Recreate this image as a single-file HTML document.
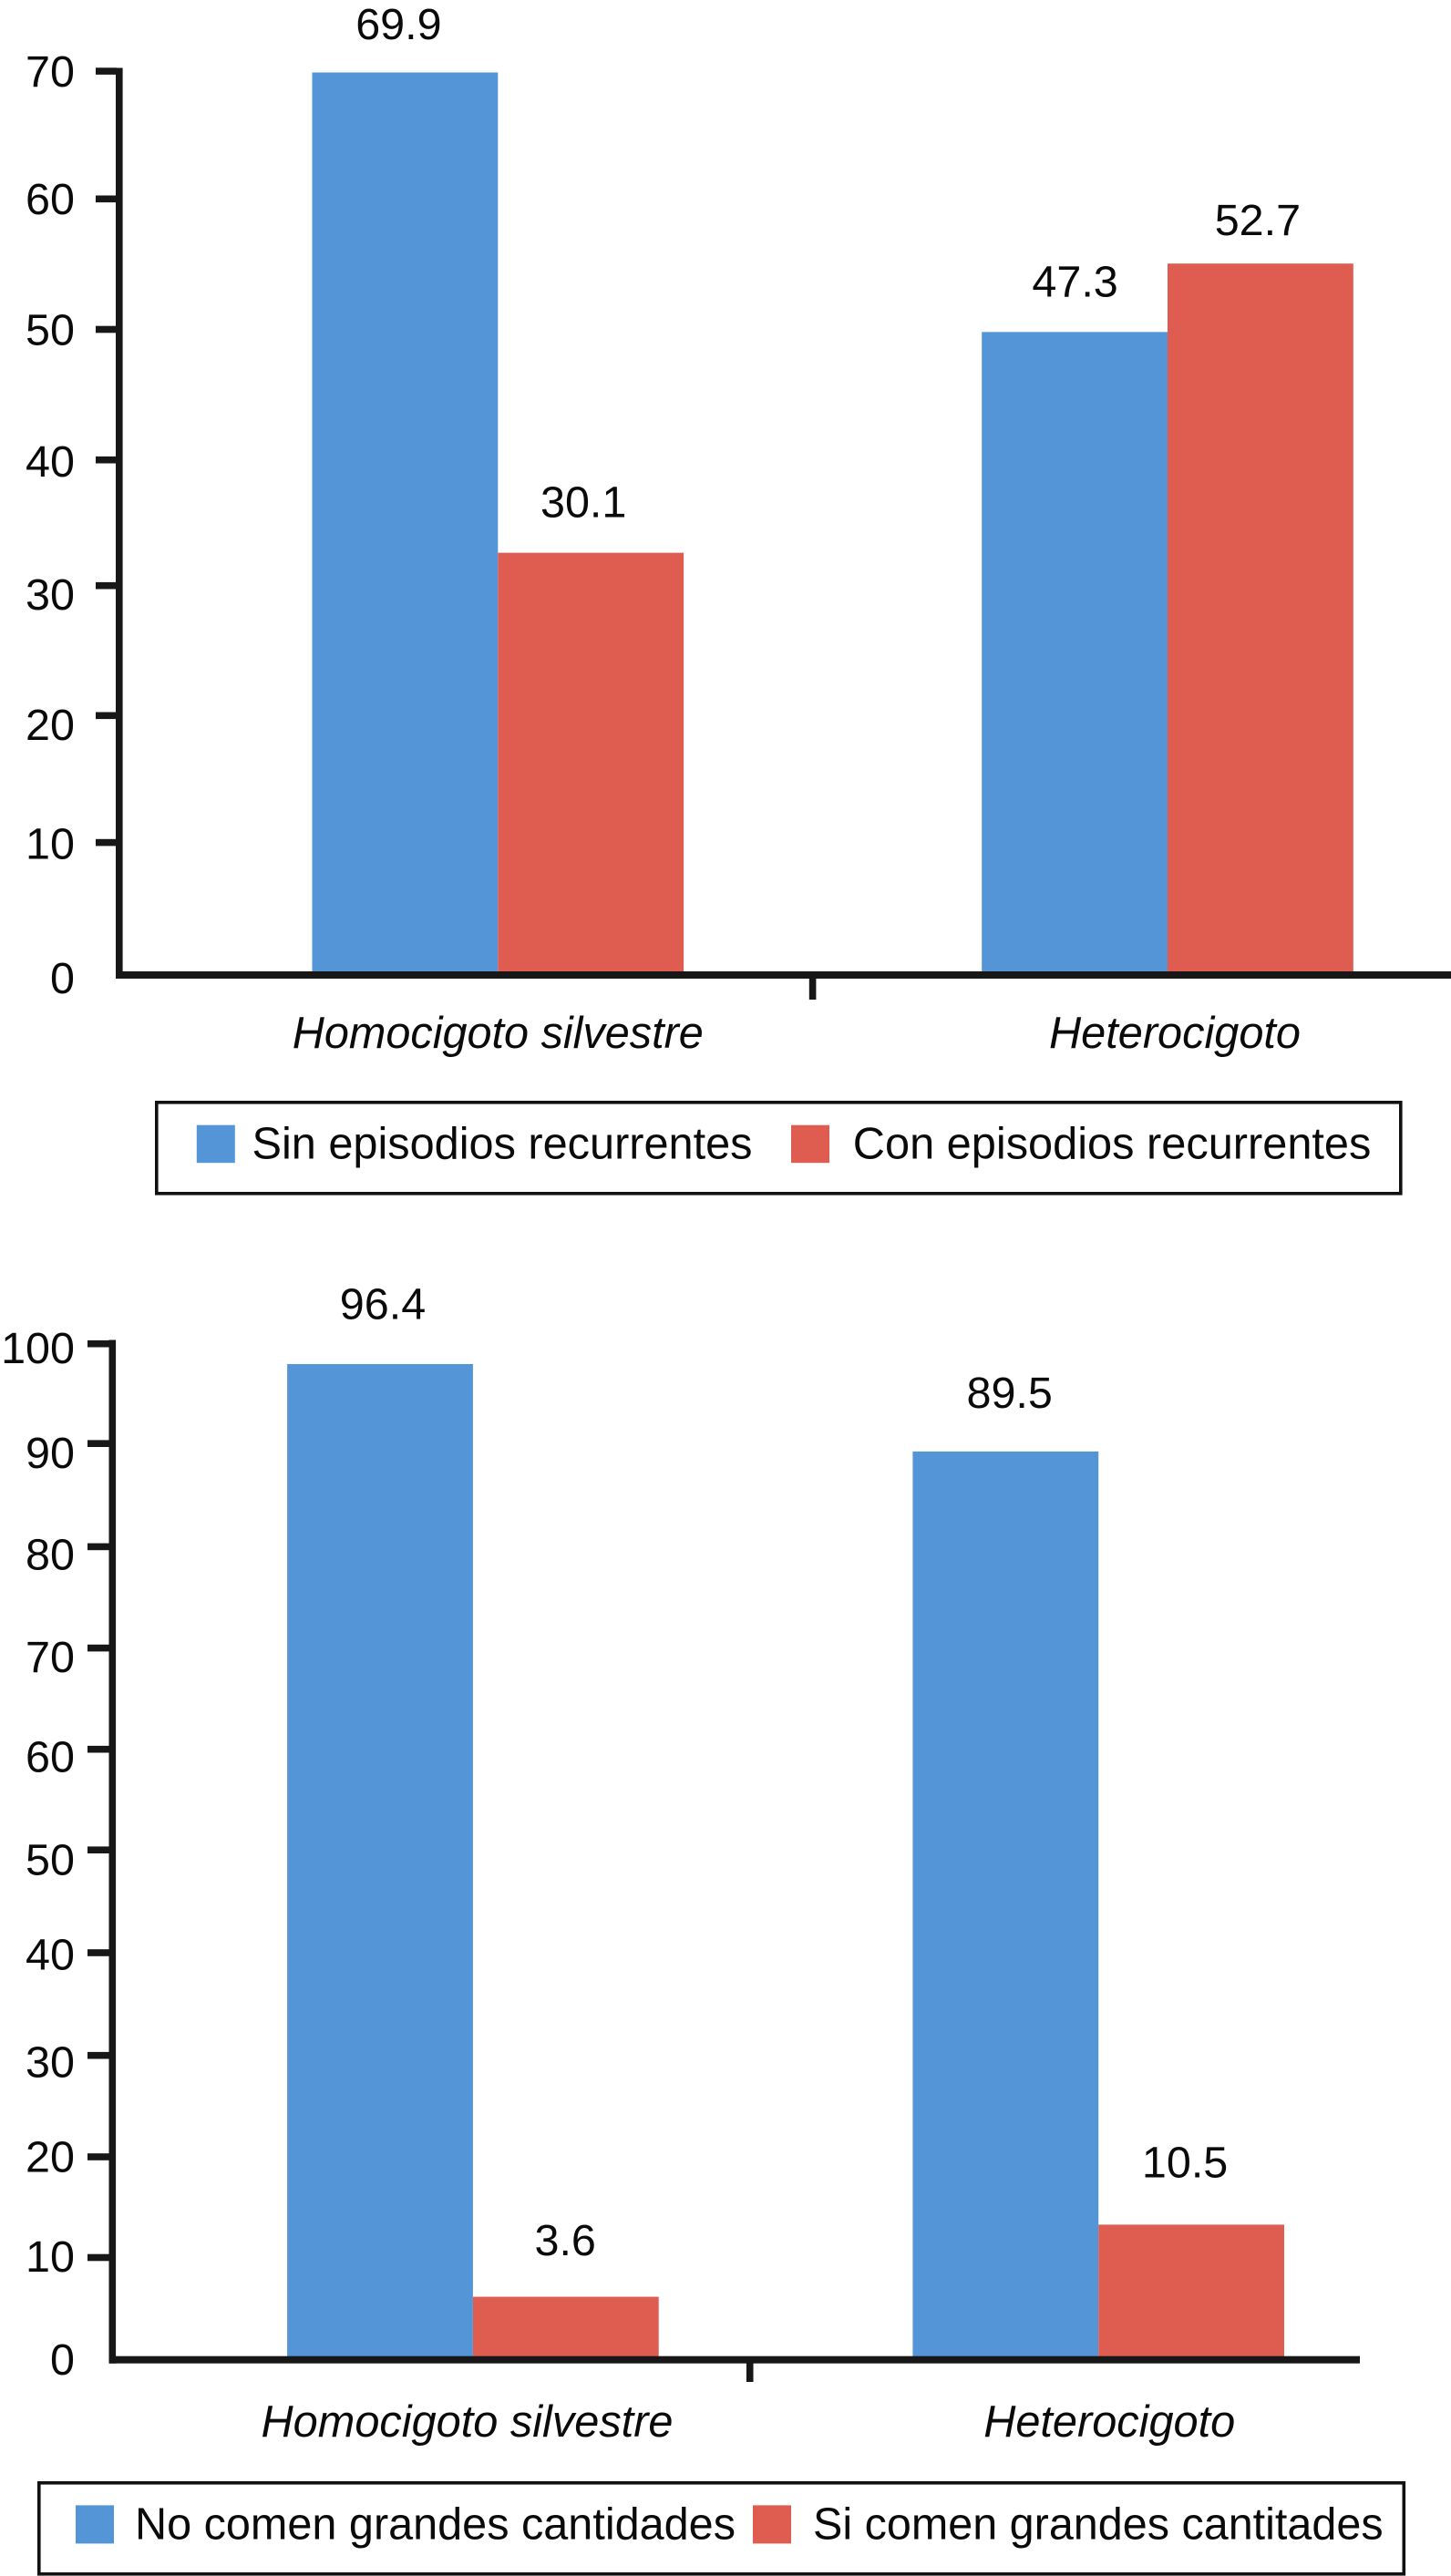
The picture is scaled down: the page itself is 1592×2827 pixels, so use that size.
<!DOCTYPE html>
<html lang="es">
<head>
<meta charset="utf-8">
<title>Episodios recurrentes y grandes cantidades por genotipo</title>
<style>
html,body{margin:0;padding:0;background:#fff;width:1592px;height:2827px;overflow:hidden}
svg{display:block}
text{font-family:"Liberation Sans",Arial,sans-serif;fill:#0a0a0a}
</style>
</head>
<body>
<svg id="figure" xmlns="http://www.w3.org/2000/svg" width="1592" height="2827" viewBox="0 0 1592 2827"></svg>
<script>
// ---- Chart 1 data ----
const categories1 = ["Homocigoto silvestre", "Heterocigoto"];
const seriesNames1 = ["Sin episodios recurrentes", "Con episodios recurrentes"];
const sinEpisodios = [69.9, 49.8];
const conEpisodios = [32.7, 55.1];
const printedSin = ["69.9", "47.3"];
const printedCon = ["30.1", "52.7"];
const ticks1 = [0, 10, 20, 30, 40, 50, 60, 70];

// ---- Chart 2 data ----
const categories2 = ["Homocigoto silvestre", "Heterocigoto"];
const seriesNames2 = ["No comen grandes cantidades", "Si comen grandes cantitades"];
const noComen = [98.0, 89.4];
const siComen = [6.2, 13.3];
const printedNo = ["96.4", "89.5"];
const printedSi = ["3.6", "10.5"];
const ticks2 = [0, 10, 20, 30, 40, 50, 60, 70, 80, 90, 100];

// ---- Layout ----
const BLUE = "#5395d7";
const RED = "#df5c51";
const INK = "#171717";
const NS = "http://www.w3.org/2000/svg";
const figure = document.getElementById("figure");

const layout1 = {
  key: "recurrence",
  baseY: 1070, unit: 14.17, axisLeft: 127, axisTop: 74.5, axisRight: 1592,
  tickLeft: 105, labelRight: 82,
  group0: 546.3, groupStep: 734.7, barW: 203.8,
  sepAt: 0.47, sepBottom: 1097,
  tickNudge: [0, -3.7, -1.3, -2.2, 1.5, 0, -1.5, 0],
  tickLabelDy: [20, 14, 25.4, 24, 20, 17, 15, 17],
  labelShift: [[[-7, -36.5], [0.5, -38.7]], [[-8, -39.3], [-3, -31]]],
  catBaseline: 1150, catDx: [0, 8], catLen: [451, 276],
  legend: {x: 171.8, y: 1209.8, w: 1365, h: 100, swatchY: 1234.7, swatchH: 41.5,
           swatchX: [215.8, 868], textX: [276.5, 935.8], textLen: [549, 568.6], baseline: 1271.5}
};
const layout2 = {
  key: "quantity",
  baseY: 2589.7, unit: 11.15, axisLeft: 119.5, axisTop: 1470.5, axisRight: 1492,
  tickLeft: 96, labelRight: 82,
  group0: 518.9, groupStep: 686.3, barW: 203.8,
  sepAt: 0.4427, sepBottom: 2614,
  tickNudge: [0, -0.7, 0.3, 0.5, -0.7, -2, -1, -0.6, -0.3, -2, 0],
  tickLabelDy: [16.3, 14.8, 16.6, 24.1, 18, 25.1, 24, 25.8, 24.7, 24.8, 21.3],
  labelShift: [[[3, -49.5], [4.4, -48]], [[-0.6, -45.4], [-7, -51.8]]],
  catBaseline: 2674, catDx: [-6.4, 12], catLen: [452, 276],
  legend: {x: 42.8, y: 2724.8, w: 1497.5, h: 100, swatchY: 2749.4, swatchH: 42,
           swatchX: [83, 826], textX: [148, 892], textLen: [659, 625.6], baseline: 2786.7}
};

function svgEl(parent, tag, attrs, content) {
  const el = document.createElementNS(NS, tag);
  for (const k in attrs) el.setAttribute(k, attrs[k]);
  if (content !== undefined) el.textContent = content;
  parent.appendChild(el);
  return el;
}

function drawChart(L, categories, seriesNames, series, printed, ticks) {
  const y = v => L.baseY - v * L.unit;
  const groupX = i => L.group0 + i * L.groupStep;
  const barX = (i, s) => groupX(i) + (s - 1) * L.barW;

  const g = svgEl(figure, "g", {});
  
  

  // bars and printed values
  series.forEach((values, s) => {
    values.forEach((v, i) => {
      const bar = svgEl(g, "rect", {
        x: barX(i, s), y: y(v), width: L.barW, height: y(0) - y(v),
        fill: s === 0 ? BLUE : RED
      });
      
      

      const shift = L.labelShift[s][i];
      const label = svgEl(g, "text", {
        x: barX(i, s) + L.barW / 2 + shift[0], y: y(v) + shift[1],
        "text-anchor": "middle", "font-size": 48.5
      }, printed[s][i]);
      
      
    });
  });

  // y axis line
  const yAxis = svgEl(g, "rect", {
    x: L.axisLeft, y: L.axisTop, width: 7.6, height: L.baseY + 4 - L.axisTop, fill: INK
  });
  
  

  // x axis line
  const xAxis = svgEl(g, "rect", {
    x: L.axisLeft, y: L.baseY - 4, width: L.axisRight - L.axisLeft, height: 8, fill: INK
  });
  
  

  // y ticks and labels
  ticks.forEach((t, k) => {
    if (t !== 0) {
      const tick = svgEl(g, "rect", {
        x: L.tickLeft, y: y(t) + L.tickNudge[k] - 3.8,
        width: L.axisLeft - L.tickLeft + 1, height: 7.6, fill: INK
      });
      
      
    }
    const tl = svgEl(g, "text", {
      x: L.labelRight, y: y(t) + L.tickLabelDy[k], "text-anchor": "end", "font-size": 48.5
    }, String(t));
    
    
  });

  // x separator tick
  const sepX = L.group0 + L.sepAt * L.groupStep;
  const sep = svgEl(g, "rect", {
    x: sepX - 3.8, y: L.baseY, width: 7.6, height: L.sepBottom - L.baseY, fill: INK
  });
  
  

  // category labels
  categories.forEach((c, i) => {
    const cat = svgEl(g, "text", {
      x: groupX(i) + L.catDx[i], y: L.catBaseline, "text-anchor": "middle",
      "font-size": 49, "font-style": "italic",
      textLength: L.catLen[i], lengthAdjust: "spacingAndGlyphs"
    }, c);
    
    
  });

  // legend
  const lg = L.legend;
  const legend = svgEl(g, "g", {});
  
  
  const frame = svgEl(legend, "rect", {
    x: lg.x, y: lg.y, width: lg.w, height: lg.h, fill: "#fff", stroke: "#111", "stroke-width": 3.6
  });
  
  
  seriesNames.forEach((name, s) => {
    const sw = svgEl(legend, "rect", {
      x: lg.swatchX[s], y: lg.swatchY, width: 42, height: lg.swatchH, fill: s === 0 ? BLUE : RED
    });
    
    
    const tx = svgEl(legend, "text", {
      x: lg.textX[s], y: lg.baseline, "font-size": 49,
      textLength: lg.textLen[s], lengthAdjust: "spacingAndGlyphs"
    }, name);
    
    
  });
}

drawChart(layout1, categories1, seriesNames1, [sinEpisodios, conEpisodios], [printedSin, printedCon], ticks1);
drawChart(layout2, categories2, seriesNames2, [noComen, siComen], [printedNo, printedSi], ticks2);
</script>
</body>
</html>
